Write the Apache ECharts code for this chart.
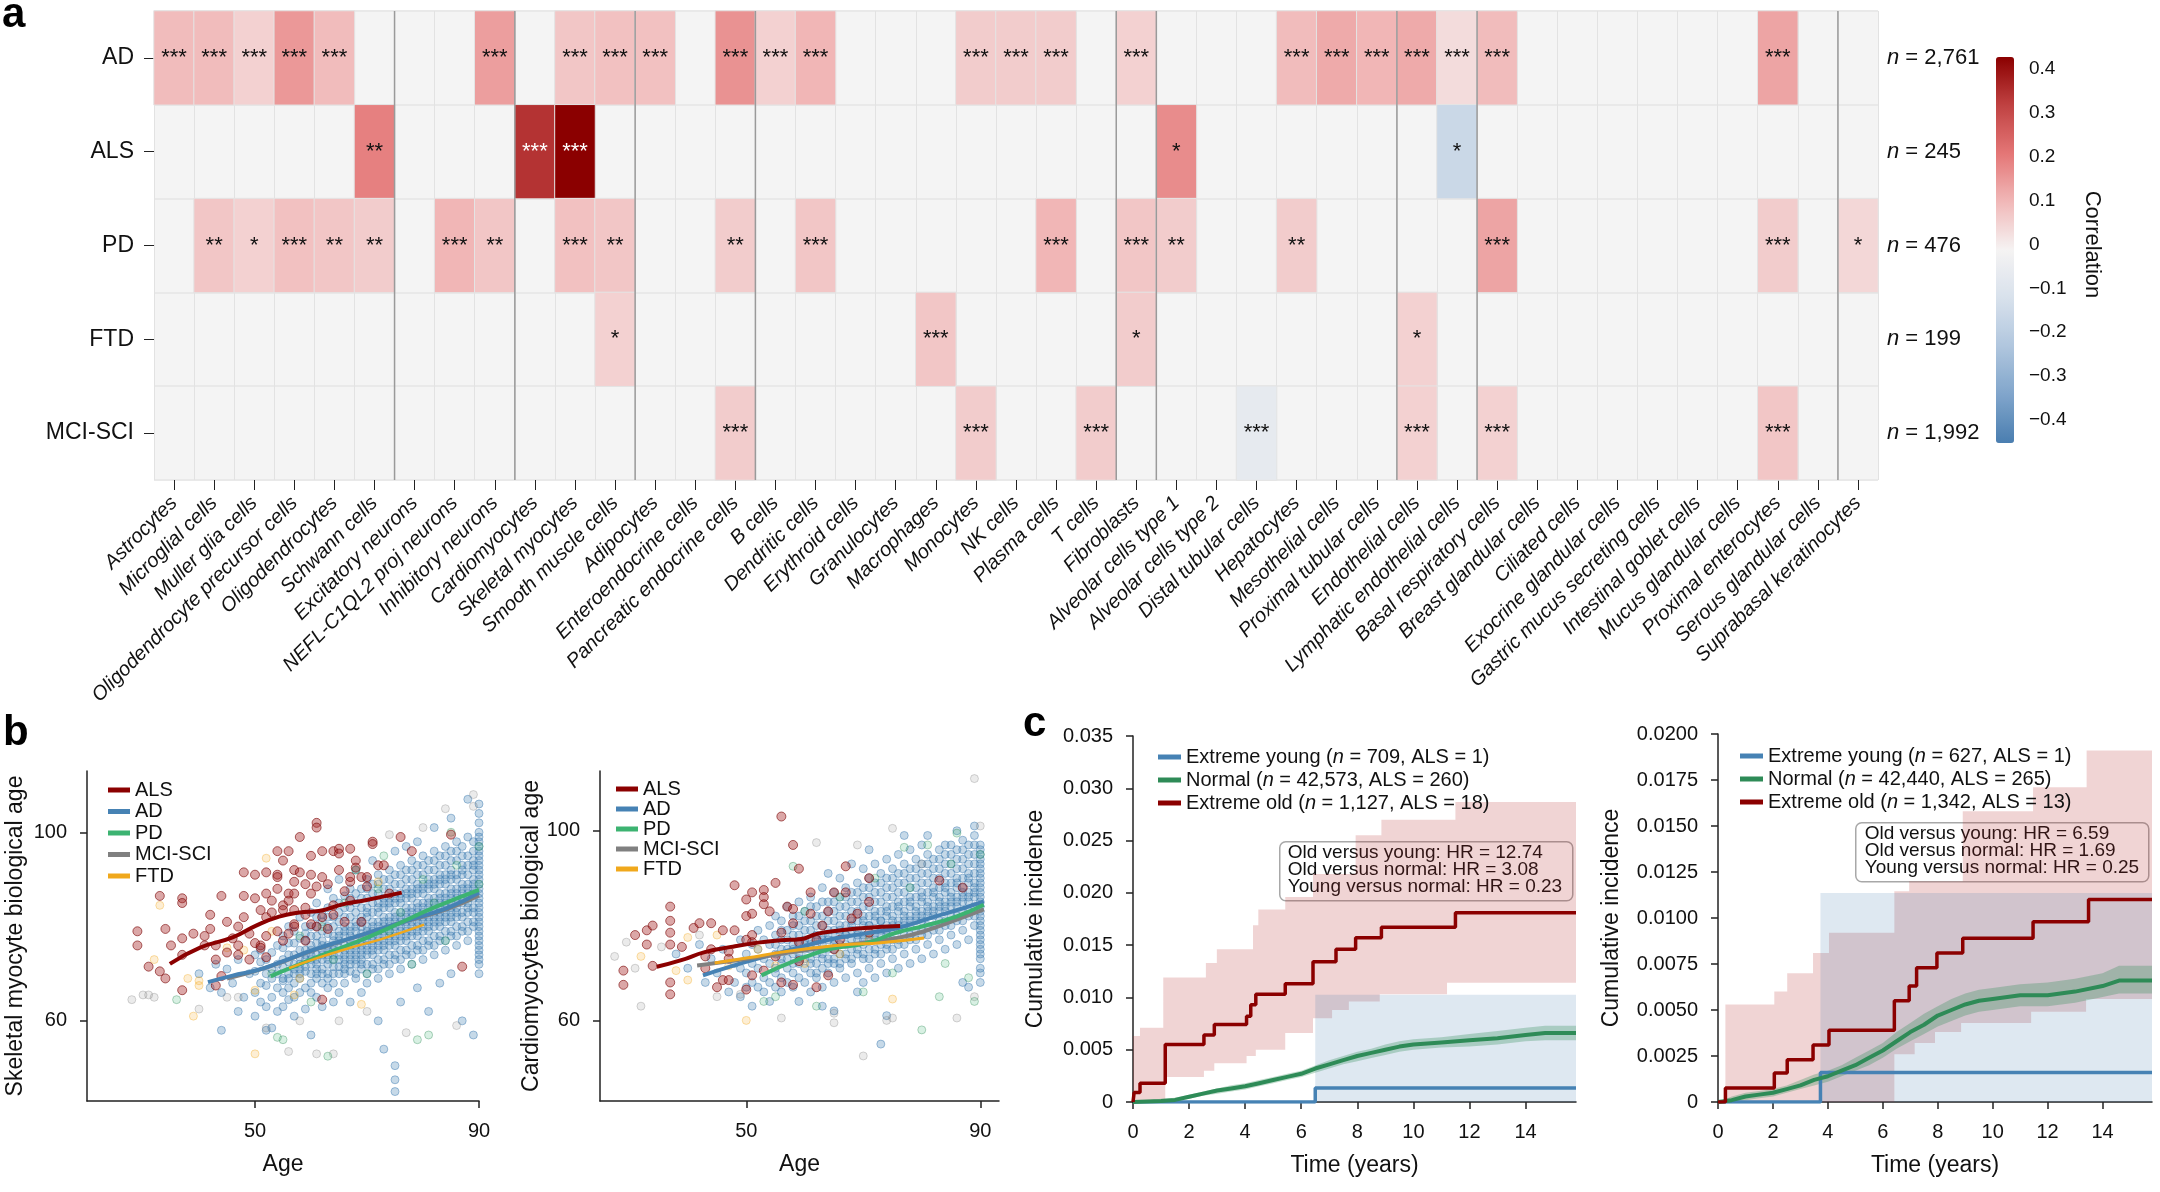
<!DOCTYPE html>
<html>
<head>
<meta charset="utf-8">
<script src="https://cdn.jsdelivr.net/npm/echarts@6/dist/echarts.min.js"></script>
<style>
  html, body { margin: 0; padding: 0; background: #fff; }
  #chart { width: 2160px; height: 1192px; }
</style>
</head>
<body>
<div id="chart"></div>
<script>
const FONT = "'Liberation Sans', Arial, Helvetica, sans-serif";
const NARROW = "'Liberation Sans Narrow', 'Liberation Sans', Arial, sans-serif";

// ---------- panel a: correlation heatmap ----------
const cellTypes = ['Astrocytes', 'Microglial cells', 'Muller glia cells', 'Oligodendrocyte precursor cells',
  'Oligodendrocytes', 'Schwann cells', 'Excitatory neurons', 'NEFL-C1QL2 proj neurons', 'Inhibitory neurons',
  'Cardiomyocytes', 'Skeletal myocytes', 'Smooth muscle cells', 'Adipocytes', 'Enteroendocrine cells',
  'Pancreatic endocrine cells', 'B cells', 'Dendritic cells', 'Erythroid cells', 'Granulocytes', 'Macrophages',
  'Monocytes', 'NK cells', 'Plasma cells', 'T cells', 'Fibroblasts', 'Alveolar cells type 1',
  'Alveolar cells type 2', 'Distal tubular cells', 'Hepatocytes', 'Mesothelial cells', 'Proximal tubular cells',
  'Endothelial cells', 'Lymphatic endothelial cells', 'Basal respiratory cells', 'Breast glandular cells',
  'Ciliated cells', 'Exocrine glandular cells', 'Gastric mucus secreting cells', 'Intestinal goblet cells',
  'Mucus glandular cells', 'Proximal enterocytes', 'Serous glandular cells', 'Suprabasal keratinocytes'];
const diseases = ['AD', 'ALS', 'PD', 'FTD', 'MCI-SCI'];
const nCounts = ['2,761', '245', '476', '199', '1,992'];

// significant cells only: [column index, correlation, stars]
const rowAD = [[0, 0.09, '***'], [1, 0.09, '***'], [2, 0.05, '***'], [3, 0.15, '***'], [4, 0.09, '***'],
  [8, 0.14, '***'], [10, 0.07, '***'], [11, 0.08, '***'], [12, 0.08, '***'], [14, 0.16, '***'],
  [15, 0.05, '***'], [16, 0.10, '***'], [20, 0.06, '***'], [21, 0.06, '***'], [22, 0.06, '***'],
  [24, 0.05, '***'], [28, 0.09, '***'], [29, 0.12, '***'], [30, 0.10, '***'], [31, 0.12, '***'],
  [32, 0.03, '***'], [33, 0.09, '***'], [40, 0.13, '***']];
const rowALS = [[5, 0.19, '**'], [9, 0.34, '***'], [10, 0.43, '***'], [25, 0.17, '*'], [32, -0.16, '*']];
const rowPD = [[1, 0.07, '**'], [2, 0.05, '*'], [3, 0.08, '***'], [4, 0.07, '**'], [5, 0.06, '**'],
  [7, 0.10, '***'], [8, 0.07, '**'], [10, 0.08, '***'], [11, 0.07, '**'], [14, 0.06, '**'],
  [16, 0.07, '***'], [22, 0.10, '***'], [24, 0.07, '***'], [25, 0.06, '**'], [28, 0.06, '**'],
  [33, 0.13, '***'], [40, 0.06, '***'], [42, 0.04, '*']];
const rowFTD = [[11, 0.05, '*'], [19, 0.07, '***'], [24, 0.06, '*'], [31, 0.05, '*']];
const rowMCI = [[14, 0.06, '***'], [20, 0.06, '***'], [23, 0.06, '***'], [27, -0.07, '***'],
  [31, 0.05, '***'], [33, 0.05, '***'], [40, 0.07, '***']];
const groupBreaks = [6, 9, 12, 15, 24, 25, 31, 33, 42];
const cbarColors = ['#4a7eb0', '#80a5cb', '#b0c6de', '#d8e1ec', '#f5f3f3', '#f1b8b8', '#e47676', '#c04242', '#8b0000'];

// ---------- panel b: biological age vs age ----------
const alsPtsL = [[29,79],[29,76],[31,71.5],[33,86.5],[33,70.5],[34,79.5],[34,69],[35,76],[37,86],[37,85],[37,77.5],
  [37,74],[37,66.5],[39,78.5],[41,78],[41,76],[42,82.5],[42,79.5],[43,76],[43,73],[43,67.5],[44,86.5],[44,69.5],
  [45,74.5],[45,81],[46,77.5],[47,76],[47,80],[47,74],[48,91.5],[48,86.5],[48,82],[49,78.5],[49,73],[50,91],
  [50,86],[51,76],[51,83.5],[52,82],[52,78],[52,91.5],[52,87],[53,85.5],[53,83],[54,96],[54,91],[54,90.5],
  [54,88],[55,84.5],[55,94],[55,83.5],[56,87],[56,96],[56,78.5],[56,85.5],[57,89.5],[57,83.5],[57,92],[57,87],
  [57,80.5],[58,99],[58,91.5],[59,82.5],[59,89],[59,84],[60,87],[60,95],[60,91],[61,88.5],[61,102],[61,101],
  [61,80],[62,90.5],[62,96],[62,64.5],[63,89],[64,96],[64,84.5],[65,96.5],[65,95.5],[65,92],[66,87.5],[66,81],
  [67,89.5],[67,96.5],[67,90.5],[68,94],[68,92.5],[69,90.5],[70,88.5],[70,90.5],[71,98],[71,97.5],[72,93],
  [73,93],[74,87],[76,99],[78,96],[85,99.5],[87,71.5],[62,82],[63,79.5],[64,82.5],[67,85.5],[69,81],[50,76.5],
  [51,75.5],[52,73.5],[54,79],[55,77],[57,80],[59,77],[60,80.5]];
const adPtsL = [[40,70],[42,67],[43,72],[44,66],[45,71],[46,68],[47,73],[48,65],[49,70],[44,58],[47,62],
  [50,66],[50,70.5],[50,74],[50,61],[51,68],[51,72.5],[51,64],[51,75],[52,63],[52,70],[52,73],[52,67.5],[52,58],
  [53,71],[53,65],[53,69],[53,74.5],[53,58.5],[54,67],[54,72],[54,76],[54,62],[54,70],
  [55,69],[55,73],[55,66],[55,78],[55,71.5],[55,63],[56,70],[56,74],[56,67],[56,80],[56,72.5],[56,64.5],
  [57,72],[57,68],[57,76.5],[57,65],[57,79],[57,70],[57,61],[58,71],[58,75],[58,69],[58,82],[58,66],[58,73.5],
  [59,73],[59,77],[59,70.5],[59,67],[59,80],[59,62.5],[59,75],[60,74],[60,70],[60,78],[60,66],[60,83],[60,72],
  [60,76],[60,57],[61,72],[61,76.5],[61,69],[61,80],[61,74],[61,65],[61,85],[61,71],[62,75],[62,71],[62,79],
  [62,68],[62,82.5],[62,73],[62,77],[62,63],[63,76],[63,72],[63,80],[63,70],[63,84],[63,67],[63,74],[63,78.5],
  [63,88],[64,74],[64,78],[64,71.5],[64,82],[64,68],[64,76],[64,86],[64,73],[64,64],[65,77],[65,73],[65,81],
  [65,70],[65,85],[65,75.5],[65,79],[65,66],[65,90],[66,78],[66,74],[66,82],[66,71],[66,76],[66,86.5],[66,68],
  [66,80],[66,73],[67,76],[67,80],[67,73],[67,84],[67,70.5],[67,78],[67,88],[67,75],[67,64],[67,82],
  [68,79],[68,75],[68,83],[68,72],[68,77],[68,87],[68,69],[68,81],[68,74],[68,92],[69,80],[69,76],[69,84],
  [69,73],[69,78.5],[69,88],[69,71],[69,82],[69,66],[69,75],[70,78],[70,82],[70,75],[70,86],[70,72],[70,80],
  [70,90],[70,77],[70,68],[70,84],[71,81],[71,77],[71,85],[71,74],[71,79],[71,89],[71,71],[71,83],[71,76],
  [71,94],[72,79],[72,83],[72,76],[72,87],[72,73],[72,81],[72,91],[72,78],[72,69],[72,85],[72,60],[73,82],
  [73,78],[73,86],[73,75],[73,80],[73,90],[73,72],[73,84],[73,77],[73,54],[74,80],[74,84],[74,77],[74,88],
  [74,74],[74,82],[74,92],[74,79],[74,70],[74,86],[75,83],[75,79],[75,87],[75,76],[75,81],[75,91],[75,73],
  [75,85],[75,78],[75,50.5],[75,47.5],[75,45],[75,96],[76,81],[76,85],[76,78],[76,89],[76,75],[76,83],[76,93],
  [76,80],[76,71],[76,87],[76,64],[77,84],[77,80],[77,88],[77,77],[77,82],[77,92],[77,74],[77,86],[77,79],
  [77,97],[78,82],[78,86],[78,79],[78,90],[78,76],[78,84],[78,94],[78,81],[78,72],[78,88],[79,85],[79,81],
  [79,89],[79,78],[79,83],[79,93],[79,75],[79,87],[79,80],[79,67],[79,98],[80,83],[80,87],[80,80],[80,91],
  [80,77],[80,85],[80,95],[80,82],[80,73],[80,89],[81,86],[81,82],[81,90],[81,79],[81,84],[81,94],[81,76],
  [81,88],[81,81],[81,62],[82,84],[82,88],[82,81],[82,92],[82,78],[82,86],[82,96],[82,83],[82,74],[82,90],
  [82,101],[83,87],[83,83],[83,91],[83,80],[83,85],[83,95],[83,77],[83,89],[83,82],[83,68],[84,85],[84,89],
  [84,82],[84,93],[84,79],[84,87],[84,97],[84,84],[84,75],[84,91],[85,88],[85,84],[85,92],[85,81],[85,86],
  [85,96],[85,78],[85,90],[85,83],[85,70],[85,103],[86,86],[86,90],[86,83],[86,94],[86,80],[86,88],[86,98],
  [86,85],[86,76],[87,89],[87,85],[87,93],[87,82],[87,87],[87,97],[87,79],[87,91],[87,60],[88,87],[88,91],
  [88,84],[88,95],[88,81],[88,89],[88,99],[88,86],[88,77],[88,107],[89,90],[89,86],[89,94],[89,83],[89,88],
  [89,98],[89,80],[89,92],[89,57],[90,72],[90,74],[90,76],[90,78],[90,80],[90,82],[90,84],[90,86],[90,88],
  [90,90],[90,92],[90,94],[90,96],[90,98],[90,100],[90,102],[90,104],[90,73],[90,79],[90,85],[90,91],[90,97],
  [90,70],[90,106]];
// denser core of the AD cloud, left plot
const adCoreL = [[55,68.5],[55,75.5],[56,69],[56,76.5],[57,71],[57,74],[58,70],[58,77.5],[58,72],[59,71.5],[59,78.5],
  [59,74],[60,73],[60,75],[60,80],[60,68],[61,70],[61,73],[61,78],[61,82],[62,70],[62,74],[62,76],[62,81],
  [63,69],[63,73],[63,75],[63,82],[64,70],[64,75],[64,77],[64,80],[65,71.5],[65,74],[65,78],[65,83],[66,70],
  [66,72],[66,75],[66,79],[66,84],[67,72],[67,74],[67,77],[67,79],[67,86],[68,70],[68,73],[68,76],[68,80],
  [68,85],[69,72],[69,74],[69,77],[69,81],[69,86],[70,70],[70,74],[70,76],[70,79],[70,83],[70,88],[71,72],
  [71,75],[71,78],[71,80],[71,87],[72,71],[72,75],[72,77],[72,80],[72,84],[72,89],[73,73],[73,76],[73,79],
  [73,81],[73,85],[73,88],[74,72],[74,76],[74,78],[74,81],[74,85],[74,90],[75,74],[75,77],[75,80],[75,82],
  [75,86],[75,89],[76,73],[76,77],[76,79],[76,82],[76,86],[76,91],[77,75],[77,78],[77,81],[77,83],[77,87],
  [77,90],[78,74],[78,78],[78,80],[78,83],[78,87],[78,92],[79,76],[79,79],[79,82],[79,84],[79,88],[79,91],
  [80,75],[80,79],[80,81],[80,84],[80,88],[80,93],[81,77],[81,80],[81,83],[81,85],[81,89],[81,92],[82,76],
  [82,80],[82,82],[82,85],[82,89],[82,94],[83,78],[83,81],[83,84],[83,86],[83,90],[83,93],[84,77],[84,81],
  [84,83],[84,86],[84,90],[84,95],[85,79],[85,82],[85,85],[85,87],[85,91],[85,94],[86,78],[86,82],[86,84],
  [86,87],[86,91],[86,96],[87,80],[87,83],[87,86],[87,88],[87,92],[87,95],[88,79],[88,83],[88,85],[88,88],
  [88,93],[89,81],[89,84],[89,87],[89,89],[89,93],[89,96],[90,75],[90,77],[90,81],[90,83],[90,87],[90,89],
  [90,93],[90,95],[90,99]];
const pdPtsL = [[36,64.5],[55,56],[54,56.5],[63,52.5],[79,56],[53,70],[58,78],[62,80],[66,85],[70,70],[72,88],
  [74,79],[76,83],[78,72],[80,90],[82,85],[84,77],[86,93],[88,86],[90,89],[90,97],[73,95],[68,92],[85,100],
  [60,64],[64,73],[81,57]];
const ftdPtsL = [[33,84.5],[39,61],[40,67.5],[48,75],[50,53],[52,94.5],[53,79],[57,65.5],[69,63.5],[72,89.5],
  [40,68.5],[38,69],[32,73],[50,66.5],[45,75.5],[58,69]];
const mciPtsL = [[28,64.5],[30,65.5],[31,65.5],[32,65],[40,62.5],[45,65],[47,65],[56,53.5],[61,53],[64,53],
  [52,58.5],[65,60],[77,57.5],[74,99.5],[80,101],[84,105],[89,108],[89,105.5],[70,62],[58,60],[86,59]];
const alsLineL = [[34.8,72.1],[40.1,75.5],[46,77.7],[50.2,80.2],[54.3,82.1],[57.9,83],[61.4,83.3],[65.6,84.7],[69.7,85.6],[76.2,87.2]];
const adLineL = [[41.6,68.2],[46,69.6],[50.2,70.7],[54.9,72.6],[60.8,75.2],[66.7,77.4],[72.7,79.6],[78.6,81.8],[84.5,84],[90,87.2]];
const pdLineL = [[52.8,69.5],[57.9,72],[63.8,74.8],[69.7,77.5],[75.6,80.6],[81.5,83.8],[90,87.8]];
const mciLineL = [[45,69],[52,71.3],[60,74.8],[68,77.8],[76,80.8],[84,83.6],[90,86.6]];
const ftdLineL = [[56.1,71.2],[60.8,73.2],[66.7,75.4],[72.7,77.4],[80.2,80.4]];

const alsPtsR = [[29,70.5],[29,67.5],[31,78],[33,79],[33,76],[34,80],[34,71.5],[37,84],[37,81],[37,78.5],[37,76],
  [37,68],[37,65.5],[39,75.5],[41,79.5],[42,80.5],[43,71],[44,75],[44,80.5],[45,67],[46,79],[46,68.5],[47,73],
  [47,68.5],[47,74.5],[48,88.5],[48,79],[50,85.5],[50,82],[50,66.5],[51,87],[51,82.5],[51,78],[51,76.5],
  [53,87.5],[53,86],[53,84.5],[54,83],[55,89],[56,103],[56,78.5],[57,84],[58,80.5],[58,97],[58,83.5],[59,92],
  [59,72.5],[61,87],[61,82.5],[62,77],[64,83],[65,87],[67,92.5],[67,87],[68,81.5],[69,82.5],[71,90],[71,85],
  [71,78.5],[83,89.5],[87,88],[51,69.5],[53,70.5],[56,68],[58,67.5],[62,67],[64,69.5],[65,75],[66,77],[55,73.5],
  [50,77],[59,76.5],[63,80],[43,73.5]];
const adPtsR = [[38,74],[40,71],[42,76],[43,68],[44,73],[45,70],[46,75],[47,66],[48,72],[49,77],[48,68],
  [49,71],[49,65],[50,70],[50,74],[50,67],[51,72],[51,68],[51,76],[51,63],[52,71],[52,75],[52,67],[52,79],
  [53,73],[53,69],[53,77],[53,66],[54,72],[54,76],[54,68],[54,80],[54,64],[55,74],[55,70],[55,78],[55,67],
  [55,82],[56,73],[56,77],[56,69],[56,81],[56,66],[56,75],[57,75],[57,71],[57,79],[57,68],[57,84],[58,74],
  [58,78],[58,70],[58,82],[58,67],[58,76],[59,76],[59,72],[59,80],[59,69],[59,85],[59,74],[59,64],[60,75],
  [60,79],[60,71],[60,83],[60,68],[60,77],[61,77],[61,73],[61,81],[61,70],[61,86],[61,75],[61,66],[62,76],
  [62,80],[62,72],[62,84],[62,69],[62,78],[63,78],[63,74],[63,82],[63,71],[63,88],[63,76],[63,67],[63,63],
  [64,77],[64,81],[64,73],[64,85],[64,70],[64,79],[64,91],[65,79],[65,75],[65,83],[65,72],[65,87],[65,77],
  [65,68],[65,62],[66,78],[66,82],[66,74],[66,86],[66,71],[66,80],[66,90],[67,80],[67,76],[67,84],[67,73],
  [67,88],[67,78],[67,69],[68,79],[68,83],[68,75],[68,87],[68,72],[68,81],[68,93],[69,81],[69,77],[69,85],
  [69,74],[69,89],[69,79],[69,70],[69,66],[70,80],[70,84],[70,76],[70,88],[70,73],[70,82],[70,92],[70,78],
  [70,68],[71,82],[71,78],[71,86],[71,75],[71,90],[71,80],[71,71],[71,96],[72,81],[72,85],[72,77],[72,89],
  [72,74],[72,83],[72,93],[72,79],[72,69],[73,83],[73,79],[73,87],[73,76],[73,91],[73,81],[73,72],[73,55],
  [74,82],[74,86],[74,78],[74,90],[74,75],[74,84],[74,94],[74,80],[74,70],[74,61],[75,84],[75,80],[75,88],
  [75,77],[75,92],[75,82],[75,73],[76,83],[76,87],[76,79],[76,91],[76,76],[76,85],[76,95],[76,81],[76,71],
  [77,85],[77,81],[77,89],[77,78],[77,93],[77,83],[77,74],[77,99],[78,84],[78,88],[78,80],[78,92],[78,77],
  [78,86],[78,96],[78,82],[78,72],[79,86],[79,82],[79,90],[79,79],[79,94],[79,84],[79,75],[80,85],[80,89],
  [80,81],[80,93],[80,78],[80,87],[80,97],[80,83],[80,73],[81,87],[81,83],[81,91],[81,80],[81,95],[81,85],
  [81,76],[81,99],[82,86],[82,90],[82,82],[82,94],[82,79],[82,88],[82,84],[82,74],[83,88],[83,84],[83,92],
  [83,81],[83,96],[83,86],[83,77],[84,87],[84,91],[84,83],[84,95],[84,80],[84,89],[84,85],[84,75],[84,97],
  [85,89],[85,85],[85,93],[85,82],[85,97],[85,87],[85,78],[86,88],[86,92],[86,84],[86,96],[86,81],[86,90],
  [86,86],[86,76],[86,100],[87,90],[87,86],[87,94],[87,83],[87,98],[87,88],[87,79],[87,68],[88,89],[88,93],
  [88,85],[88,97],[88,82],[88,91],[88,87],[88,77],[88,67],[89,91],[89,87],[89,95],[89,84],[89,99],[89,89],
  [89,80],[89,101],[90,68],[90,71],[90,74],[90,76],[90,78],[90,80],[90,82],[90,84],[90,86],[90,88],[90,90],
  [90,92],[90,94],[90,96],[90,73],[90,79],[90,85],[90,91],[90,97],[90,87]];
// denser core of the AD cloud, right plot
const adCoreR = [[55,71],[55,76],[56,72],[56,79],[57,73],[57,77],[58,72],[58,75],[58,80],[59,73],[59,78],[59,82],
  [60,73],[60,76],[60,81],[61,72],[61,76],[61,79],[61,84],[62,74],[62,77],[62,82],[62,70],[63,73],[63,77],
  [63,80],[63,85],[64,72],[64,75],[64,78],[64,83],[65,73],[65,76],[65,81],[65,85],[66,72],[66,76],[66,79],
  [66,84],[67,74],[67,78],[67,82],[67,86],[68,73],[68,77],[68,80],[68,85],[69,75],[69,78],[69,83],[69,87],
  [70,74],[70,77],[70,81],[70,86],[71,73],[71,77],[71,80],[71,84],[71,88],[72,75],[72,78],[72,82],[72,87],
  [73,74],[73,78],[73,81],[73,85],[73,89],[74,76],[74,79],[74,83],[74,88],[75,75],[75,79],[75,81],[75,86],
  [75,90],[76,77],[76,80],[76,84],[76,89],[77,76],[77,80],[77,82],[77,87],[77,91],[78,78],[78,81],[78,85],
  [78,90],[79,77],[79,81],[79,83],[79,88],[79,92],[80,79],[80,82],[80,86],[80,91],[81,78],[81,82],[81,84],
  [81,89],[81,93],[82,80],[82,83],[82,87],[82,92],[83,79],[83,83],[83,85],[83,90],[83,94],[84,81],[84,84],
  [84,88],[84,93],[85,80],[85,84],[85,86],[85,91],[85,95],[86,82],[86,85],[86,89],[86,94],[87,81],[87,85],
  [87,87],[87,92],[87,96],[88,83],[88,86],[88,90],[88,95],[89,82],[89,86],[89,88],[89,93],[89,97],[90,70],
  [90,75],[90,77],[90,81],[90,83],[90,89],[90,93],[90,95]];
const pdPtsR = [[58,92.5],[77,96.5],[81,97],[86,99.5],[80,58],[55,65],[62,63],[70,66],[75,70],[84,72],[88,69],
  [66,86],[72,90],[78,88],[85,93],[90,95],[60,83],[83,65],[89,64],[53,64]];
const ftdPtsR = [[32,73.5],[40,77.5],[40,68.5],[50,60],[55,71.5],[75,64.5],[47,71.5],[38,70.5],[45,78],[52,75],
  [60,72],[66,74],[71,77]];
const mciPtsR = [[27.5,73.5],[29.5,76.5],[31,71],[32,63],[35.5,75.5],[45,65],[49,65.5],[56,60.5],[62,97.5],
  [69,97],[70,52.5],[65,59.5],[65,61.5],[74,60],[75,60.5],[75,100.5],[86,60.5],[89,111],[89,65],[90,101],
  [42,78],[80,93]];
const alsLineR = [[34.7,71.3],[38.9,72.7],[42.9,74.4],[47.4,75.5],[52,76.4],[55.9,76.9],[59.1,77.1],[62.2,78.3],[66.2,79],[70.2,79.5],[76.3,79.9]];
const adLineR = [[42.6,69.5],[47.4,71.4],[53.1,73.4],[58.8,75.3],[64.5,77.1],[70.2,78.3],[75.9,79.5],[81.5,81.6],[87.2,83.7],[90.6,85.1]];
const pdLineR = [[52.6,69.5],[58.8,72.8],[64.5,75.1],[70.2,76.2],[75.9,78.6],[80.4,79.9],[86.1,82],[90.6,84.4]];
const mciLineR = [[41.6,71.6],[47.4,72.5],[53.1,73.5],[58.8,74.6],[64.5,75.5],[70.2,76.4],[75.9,77.4],[80.4,78.8],[86.1,81.3],[90.6,83.4]];
const ftdLineR = [[44.6,72.1],[50.3,73.2],[56,74.4],[61.6,75.3],[67.3,76],[73,76.4],[80.4,77.4]];

// ---------- panel c: cumulative incidence ----------
const youngName1 = 'Extreme young (n = 709, ALS = 1)';
const normalName1 = 'Normal (n = 42,573, ALS = 260)';
const oldName1 = 'Extreme old (n = 1,127, ALS = 18)';
const youngName2 = 'Extreme young (n = 627, ALS = 1)';
const normalName2 = 'Normal (n = 42,440, ALS = 265)';
const oldName2 = 'Extreme old (n = 1,342, ALS = 13)';
const hrText1 = ['Old versus young: HR = 12.74', 'Old versus normal: HR = 3.08', 'Young versus normal: HR = 0.23'];
const hrText2 = ['Old versus young: HR = 6.59', 'Old versus normal: HR = 1.69', 'Young versus normal: HR = 0.25'];
const timeTicks = [0, 2, 4, 6, 8, 10, 12, 14];

const oldT1 = [0, 0.04, 0.25, 1.15, 2.53, 2.9, 4.05, 4.2, 4.38, 5.43, 6.42, 7.24, 7.94, 8.86, 11.5, 15.8];
const oldV1 = [0, 0.0009, 0.0018, 0.0055, 0.0064, 0.0074, 0.0082, 0.0093, 0.0103, 0.0113, 0.0134, 0.0146, 0.0157, 0.0167, 0.0181, 0.0181];
const oldHiT1 = [0, 0.25, 1.08, 2.6, 2.99, 4.28, 4.47, 5.43, 6.42, 7.94, 8.86, 11.5, 15.8];
const oldHiV1 = [0.0063, 0.0071, 0.0119, 0.0133, 0.0146, 0.0169, 0.0184, 0.0196, 0.0218, 0.0255, 0.027, 0.0287, 0.0287];
const oldLoT1 = [0, 1.15, 2.53, 2.9, 4.05, 4.38, 5.43, 6.42, 7.1, 7.7, 8.8, 11.2, 15.8];
const oldLoV1 = [0, 0.0024, 0.003, 0.0037, 0.0044, 0.005, 0.0066, 0.008, 0.0088, 0.0096, 0.0103, 0.0114, 0.0114];
const youngT1 = [0, 6.5, 15.8];
const youngV1 = [0, 0.00135, 0.00135];
const youngHiV1 = [0, 0.01025, 0.01025];
const youngLoV1 = [0, 0, 0];
const normT1 = [0, 1, 1.5, 2, 2.5, 3, 3.5, 4, 4.5, 5, 5.5, 6, 6.5, 7, 7.5, 8, 8.5, 9, 9.5, 10, 11, 12, 13, 14, 14.7, 15.8];
const normV1 = [0, 0.0001, 0.0002, 0.0005, 0.0008, 0.0011, 0.0013, 0.0015, 0.0018, 0.0021, 0.0024, 0.0027, 0.0032, 0.0036, 0.004, 0.0044, 0.0047, 0.005, 0.0053, 0.0055, 0.0057, 0.0059, 0.0061, 0.0064, 0.0066, 0.0066];
const normLo1 = [0, 0, 0.0001, 0.0003, 0.0006, 0.0008, 0.001, 0.0012, 0.0015, 0.0018, 0.0021, 0.0024, 0.0028, 0.0032, 0.0036, 0.0039, 0.0042, 0.0045, 0.0048, 0.005, 0.0052, 0.0053, 0.0055, 0.0058, 0.0059, 0.0059];
const normHi1 = [0, 0.0003, 0.0004, 0.0007, 0.001, 0.0013, 0.0016, 0.0018, 0.0021, 0.0024, 0.0027, 0.003, 0.0035, 0.004, 0.0044, 0.0048, 0.0051, 0.0055, 0.0058, 0.006, 0.0062, 0.0065, 0.0068, 0.0071, 0.0073, 0.0073];

const oldT2 = [0, 0.27, 2.05, 2.52, 3.46, 4.04, 6.42, 6.96, 7.23, 7.97, 8.91, 11.47, 13.49, 15.8];
const oldV2 = [0, 0.00076, 0.00158, 0.0023, 0.0031, 0.0039, 0.0055, 0.0063, 0.0073, 0.0081, 0.0089, 0.0098, 0.011, 0.011];
const oldHiT2 = [0, 0.27, 2.05, 2.52, 3.46, 4.04, 6.42, 6.96, 8.91, 11.47, 13.42, 15.8];
const oldHiV2 = [0, 0.0053, 0.006, 0.007, 0.0081, 0.0092, 0.01145, 0.012, 0.0158, 0.0171, 0.0191, 0.0191];
const oldLoT2 = [0, 6.42, 7.16, 7.9, 8.85, 11.4, 13.4, 15.8];
const oldLoV2 = [0, 0.0026, 0.0032, 0.0038, 0.0043, 0.0049, 0.0056, 0.0056];
const youngT2 = [0, 3.73, 15.8];
const youngV2 = [0, 0.0016, 0.0016];
const youngHiV2 = [0, 0.01136, 0.01136];
const youngLoV2 = [0, 0, 0];
const normT2 = [0, 0.5, 1, 1.5, 2, 2.5, 3, 3.5, 4, 4.5, 5, 5.5, 6, 6.5, 7, 7.5, 8, 8.5, 9, 9.5, 10, 11, 12, 13, 14, 14.6, 15.8];
const normV2 = [0, 0.0001, 0.0003, 0.0004, 0.0005, 0.0007, 0.0009, 0.0012, 0.0014, 0.0017, 0.002, 0.0024, 0.0028, 0.0033, 0.0038, 0.0042, 0.0047, 0.005, 0.0053, 0.0055, 0.0056, 0.0058, 0.0058, 0.006, 0.0063, 0.0066, 0.0066];
const normLo2 = [0, 0, 0.0001, 0.0002, 0.0003, 0.0005, 0.0007, 0.0009, 0.0011, 0.0014, 0.0017, 0.002, 0.0024, 0.0029, 0.0033, 0.0037, 0.0041, 0.0044, 0.0047, 0.0049, 0.005, 0.0052, 0.0052, 0.0054, 0.0057, 0.0059, 0.0059];
const normHi2 = [0, 0.0003, 0.0005, 0.0006, 0.0007, 0.0009, 0.0012, 0.0015, 0.0017, 0.002, 0.0024, 0.0028, 0.0032, 0.0038, 0.0043, 0.0048, 0.0052, 0.0056, 0.0059, 0.0061, 0.0062, 0.0064, 0.0065, 0.0067, 0.007, 0.0074, 0.0074];

// colours
const RED = '#8b0000', BLUE = '#4682b4', GREEN = '#3cb371', GREY = '#808080', GOLD = '#f0a81c', KMGREEN = '#2e8b57';
const AD_FILL = 'rgba(70,130,180,0.38)', AD_EDGE = 'rgba(70,130,180,0.62)';

const chart = echarts.init(document.getElementById('chart'));

// heatmap items
const heatData = [];
[rowAD, rowALS, rowPD, rowFTD, rowMCI].forEach((row, r) => {
  row.forEach(([c, v, s]) => {
    heatData.push({ value: [c, r, v], stars: s, label: { color: v > 0.3 ? '#fff' : '#111', fontSize: 22 } });
  });
});

const zip = (t, v) => t.map((x, i) => [x, v[i]]);
function stepPts(t, v) {
  const pts = [];
  t.forEach((x, i) => {
    if (i > 0) pts.push([x, v[i - 1]]);
    pts.push([x, v[i]]);
  });
  return pts;
}
function band(upper, lower, fill, xi, yi) {
  return {
    type: 'custom', xAxisIndex: xi, yAxisIndex: yi, silent: true, z: 1, data: [[0, 0]],
    renderItem: (params, api) => {
      const pts = upper.concat(lower.slice().reverse()).map(p => api.coord(p));
      return { type: 'polygon', shape: { points: pts }, style: { fill: fill } };
    }
  };
}
function dots(data, fill, stroke, xi, yi, z, size) {
  return {
    type: 'scatter', data: data, xAxisIndex: xi, yAxisIndex: yi, symbolSize: size || 8, silent: true, z: z || 2,
    itemStyle: { color: fill, borderColor: stroke, borderWidth: 1 }
  };
}
function curve(name, data, color, width, xi, yi, extra) {
  return Object.assign({
    type: 'line', name: name, data: data, xAxisIndex: xi, yAxisIndex: yi, symbol: 'none', showSymbol: false,
    silent: true, z: 5, lineStyle: { color: color, width: width }, itemStyle: { color: color }
  }, extra || {});
}
function plotAxis(o) {
  const ax = {
    type: 'value', gridIndex: o.grid, min: o.min, max: o.max,
    name: o.name, nameLocation: 'middle', nameGap: o.gap, nameRotate: o.rot,
    nameTextStyle: { fontSize: 23, color: '#111', fontFamily: FONT },
    axisLine: { show: true, onZero: false, lineStyle: { color: '#222', width: 1.5 } },
    axisTick: { show: true, length: 7, lineStyle: { color: '#222', width: 1.5 } },
    axisLabel: { show: true, fontSize: 20, color: '#111', margin: 20, fontFamily: FONT },
    splitLine: { show: false }
  };
  if (o.interval) ax.interval = o.interval;
  if (o.ticks) { ax.axisTick.customValues = o.ticks; ax.axisLabel.customValues = o.ticks; }
  if (o.fmt) ax.axisLabel.formatter = o.fmt;
  return ax;
}
const legendBase = {
  orient: 'vertical', icon: 'rect', itemWidth: 22, itemHeight: 5, padding: 0, selectedMode: false,
  textStyle: { fontSize: 20, color: '#111', fontFamily: FONT, lineHeight: 20 }
};
const italicN = name => name.replace('(n ', '({i|n} ');
const richN = { i: { fontStyle: 'italic', fontSize: 20, fontFamily: FONT, color: '#111' } };

const option = {
  animation: false,
  backgroundColor: '#fff',
  textStyle: { fontFamily: FONT },
  grid: [
    { left: 154, top: 11, width: 1724, height: 469, show: true, backgroundColor: '#f4f4f4', borderWidth: 0, outerBoundsMode: 'none' },
    { left: 1996, top: 69, width: 19, height: 351, outerBoundsMode: 'none' },
    { left: 87, top: 771, width: 392, height: 330, outerBoundsMode: 'none' },
    { left: 600, top: 771, width: 399, height: 330, outerBoundsMode: 'none' },
    { left: 1133, top: 736, width: 443, height: 366, outerBoundsMode: 'none' },
    { left: 1718, top: 734, width: 434, height: 368, outerBoundsMode: 'none' }
  ],
  xAxis: [
    {
      type: 'category', gridIndex: 0, data: cellTypes,
      axisLine: { show: false },
      axisTick: { show: true, alignWithLabel: true, interval: 0, length: 10, lineStyle: { color: '#222' } },
      axisLabel: { interval: 0, rotate: 45, fontStyle: 'italic', fontSize: 20, color: '#111', margin: 20, fontFamily: FONT },
      splitLine: { show: true, interval: 0, lineStyle: { color: '#e2e2e2', width: 1 } }
    },
    { type: 'value', gridIndex: 0, min: 0, max: 43, show: false },
    { type: 'value', gridIndex: 1, min: 0, max: 1, show: false },
    plotAxis({ grid: 2, min: 20, max: 90, ticks: [50, 90], name: 'Age', gap: 52 }),
    plotAxis({ grid: 3, min: 25, max: 93.2, ticks: [50, 90], name: 'Age', gap: 52 }),
    plotAxis({ grid: 4, min: 0, max: 15.8, ticks: timeTicks, name: 'Time (years)', gap: 52 }),
    plotAxis({ grid: 5, min: 0, max: 15.8, ticks: timeTicks, name: 'Time (years)', gap: 52 })
  ],
  yAxis: [
    {
      type: 'category', gridIndex: 0, data: diseases, inverse: true,
      axisLine: { show: false },
      axisTick: { show: true, alignWithLabel: true, length: 10, lineStyle: { color: '#222' } },
      axisLabel: { fontSize: 23, color: '#111', margin: 20, fontFamily: NARROW },
      splitLine: { show: true, lineStyle: { color: '#e9e9e9', width: 2 } }
    },
    {
      type: 'category', gridIndex: 0, data: nCounts, inverse: true, position: 'right',
      axisLine: { show: false }, axisTick: { show: false }, splitLine: { show: false },
      axisLabel: {
        fontSize: 22, color: '#111', margin: 9, fontFamily: NARROW,
        formatter: v => '{i|n} = ' + v,
        rich: { i: { fontStyle: 'italic', fontSize: 22, color: '#111', fontFamily: NARROW } }
      }
    },
    { type: 'value', gridIndex: 0, min: 0, max: 5, show: false },
    {
      type: 'value', gridIndex: 1, min: -0.4, max: 0.4, interval: 0.1, position: 'right',
      name: 'Correlation', nameLocation: 'middle', nameRotate: -90, nameGap: 66,
      nameTextStyle: { fontSize: 22, color: '#111', fontFamily: FONT },
      axisLine: { show: false },
      axisTick: { show: true, length: 6, lineStyle: { color: '#222' } },
      axisLabel: {
        fontSize: 19, color: '#111', margin: 14, fontFamily: FONT,
        formatter: v => Math.abs(v) < 1e-9 ? '0' : (v < 0 ? '\u2212' + Math.abs(v).toFixed(1) : v.toFixed(1))
      },
      splitLine: { show: false }
    },
    plotAxis({ grid: 2, min: 43, max: 113, ticks: [60, 100], name: 'Skeletal myocyte biological age', gap: 60, rot: 90 }),
    plotAxis({ grid: 3, min: 43, max: 112.6, ticks: [60, 100], name: 'Cardiomyocytes biological age', gap: 56, rot: 90 }),
    plotAxis({ grid: 4, min: 0, max: 0.035, interval: 0.005, name: 'Cumulative incidence', gap: 86, rot: 90,
      fmt: v => v === 0 ? '0' : v.toFixed(3) }),
    plotAxis({ grid: 5, min: 0, max: 0.02, interval: 0.0025, name: 'Cumulative incidence', gap: 95, rot: 90,
      fmt: v => v === 0 ? '0' : v.toFixed(4) })
  ],
  visualMap: {
    type: 'continuous', seriesIndex: 0, min: -0.45, max: 0.425, calculable: false,
    left: 1996, top: 57, itemWidth: 18, itemHeight: 386, padding: 0, orient: 'vertical',
    inRange: { color: cbarColors }, text: null, textStyle: { fontSize: 0 }
  },
  legend: [
    Object.assign({}, legendBase, { data: ['ALS', 'AD', 'PD', 'MCI-SCI', 'FTD'], left: 108, top: 780, itemGap: 1.5 }),
    Object.assign({}, legendBase, { data: ['ALS', 'AD', 'PD', 'MCI-SCI', 'FTD'], left: 616, top: 779, itemGap: 0,
      textStyle: Object.assign({}, legendBase.textStyle, { lineHeight: 19 }) }),
    Object.assign({}, legendBase, { data: [youngName1, normalName1, oldName1], left: 1158, top: 747, itemGap: 3, itemWidth: 23,
      formatter: italicN, textStyle: Object.assign({}, legendBase.textStyle, { rich: richN }) }),
    Object.assign({}, legendBase, { data: [youngName2, normalName2, oldName2], left: 1740, top: 746, itemGap: 3, itemWidth: 23,
      formatter: italicN, textStyle: Object.assign({}, legendBase.textStyle, { rich: richN }) })
  ],
  series: [
    {
      type: 'heatmap', xAxisIndex: 0, yAxisIndex: 0, data: heatData, silent: true,
      itemStyle: { borderColor: '#e4e4e4', borderWidth: 1 },
      label: { show: true, fontSize: 22, fontFamily: FONT, formatter: p => p.data.stars },
      emphasis: { disabled: true }
    },
    {
      type: 'custom', xAxisIndex: 1, yAxisIndex: 2, silent: true, z: 6,
      data: groupBreaks.map(b => [b, 0]),
      renderItem: (params, api) => {
        const a = api.coord([api.value(0), 0]);
        const b = api.coord([api.value(0), 5]);
        return { type: 'line', shape: { x1: a[0], y1: a[1], x2: b[0], y2: b[1] }, style: { stroke: '#9a9a9a', lineWidth: 1.5 } };
      }
    },

    // panel b, left
    dots(adPtsL, AD_FILL, AD_EDGE, 3, 4),
    dots(adCoreL, AD_FILL, AD_EDGE, 3, 4),
    dots(mciPtsL, 'rgba(128,128,128,0.2)', 'rgba(128,128,128,0.4)', 3, 4),
    dots(pdPtsL, 'rgba(60,179,113,0.25)', 'rgba(46,139,87,0.45)', 3, 4),
    dots(ftdPtsL, 'rgba(245,170,40,0.25)', 'rgba(240,168,28,0.45)', 3, 4),
    dots(alsPtsL, 'rgba(165,35,35,0.5)', 'rgba(120,0,0,0.75)', 3, 4, 3, 9),
    curve('MCI-SCI', mciLineL, GREY, 4, 3, 4, { smooth: true }),
    curve('AD', adLineL, BLUE, 4, 3, 4, { smooth: true }),
    curve('PD', pdLineL, GREEN, 4, 3, 4, { smooth: true }),
    curve('FTD', ftdLineL, GOLD, 2.5, 3, 4, { smooth: true }),
    curve('ALS', alsLineL, RED, 4, 3, 4, { smooth: true }),

    // panel b, right
    dots(adPtsR, AD_FILL, AD_EDGE, 4, 5),
    dots(adCoreR, AD_FILL, AD_EDGE, 4, 5),
    dots(mciPtsR, 'rgba(128,128,128,0.2)', 'rgba(128,128,128,0.4)', 4, 5),
    dots(pdPtsR, 'rgba(60,179,113,0.25)', 'rgba(46,139,87,0.45)', 4, 5),
    dots(ftdPtsR, 'rgba(245,170,40,0.25)', 'rgba(240,168,28,0.45)', 4, 5),
    dots(alsPtsR, 'rgba(165,35,35,0.5)', 'rgba(120,0,0,0.75)', 4, 5, 3, 9),
    curve('AD', adLineR, BLUE, 4, 4, 5, { smooth: true }),
    curve('MCI-SCI', mciLineR, GREY, 4, 4, 5, { smooth: true }),
    curve('PD', pdLineR, GREEN, 4, 4, 5, { smooth: true }),
    curve('FTD', ftdLineR, GOLD, 3, 4, 5, { smooth: true }),
    curve('ALS', alsLineR, RED, 4, 4, 5, { smooth: true }),

    // panel c, left
    band(stepPts(oldHiT1, oldHiV1), stepPts(oldLoT1, oldLoV1), 'rgba(178,40,40,0.2)', 5, 6),
    band(stepPts(youngT1, youngHiV1), stepPts(youngT1, youngLoV1), 'rgba(70,130,180,0.18)', 5, 6),
    band(zip(normT1, normHi1), zip(normT1, normLo1), 'rgba(46,139,87,0.3)', 5, 6),
    curve(youngName1, zip(youngT1, youngV1), BLUE, 3.5, 5, 6, { step: 'end' }),
    curve(normalName1, zip(normT1, normV1), KMGREEN, 4, 5, 6),
    curve(oldName1, zip(oldT1, oldV1), RED, 3.5, 5, 6, { step: 'end' }),

    // panel c, right
    band(stepPts(oldHiT2, oldHiV2), stepPts(oldLoT2, oldLoV2), 'rgba(178,40,40,0.2)', 6, 7),
    band(stepPts(youngT2, youngHiV2), stepPts(youngT2, youngLoV2), 'rgba(70,130,180,0.18)', 6, 7),
    band(zip(normT2, normHi2), zip(normT2, normLo2), 'rgba(46,139,87,0.3)', 6, 7),
    curve(youngName2, zip(youngT2, youngV2), BLUE, 3.5, 6, 7, { step: 'end' }),
    curve(normalName2, zip(normT2, normV2), KMGREEN, 4, 6, 7),
    curve(oldName2, zip(oldT2, oldV2), RED, 3.5, 6, 7, { step: 'end' })
  ],
  graphic: [
    { type: 'text', left: 2, top: -6, style: { text: 'a', font: 'bold 42px ' + FONT, fill: '#000' } },
    { type: 'text', left: 3, top: 712, style: { text: 'b', font: 'bold 42px ' + FONT, fill: '#000' } },
    { type: 'text', left: 1023, top: 703, style: { text: 'c', font: 'bold 42px ' + FONT, fill: '#000' } },
    {
      type: 'group', left: 1279, top: 841, z: 20, children: [
        { type: 'rect', shape: { x: 0, y: 0, width: 293, height: 59, r: 6 }, style: { fill: 'rgba(255,255,255,0.8)', stroke: '#a8a8a8', lineWidth: 1.5 } },
        { type: 'text', x: 8, y: 3, style: { text: hrText1.join('\n'), font: '19px ' + FONT, lineHeight: 17, fill: '#111' } }
      ]
    },
    {
      type: 'group', left: 1855, top: 822, z: 20, children: [
        { type: 'rect', shape: { x: 0, y: 0, width: 293, height: 59, r: 6 }, style: { fill: 'rgba(255,255,255,0.8)', stroke: '#a8a8a8', lineWidth: 1.5 } },
        { type: 'text', x: 9, y: 3, style: { text: hrText2.join('\n'), font: '19px ' + FONT, lineHeight: 17, fill: '#111' } }
      ]
    }
  ]
};

chart.setOption(option);
</script>
</body>
</html>
